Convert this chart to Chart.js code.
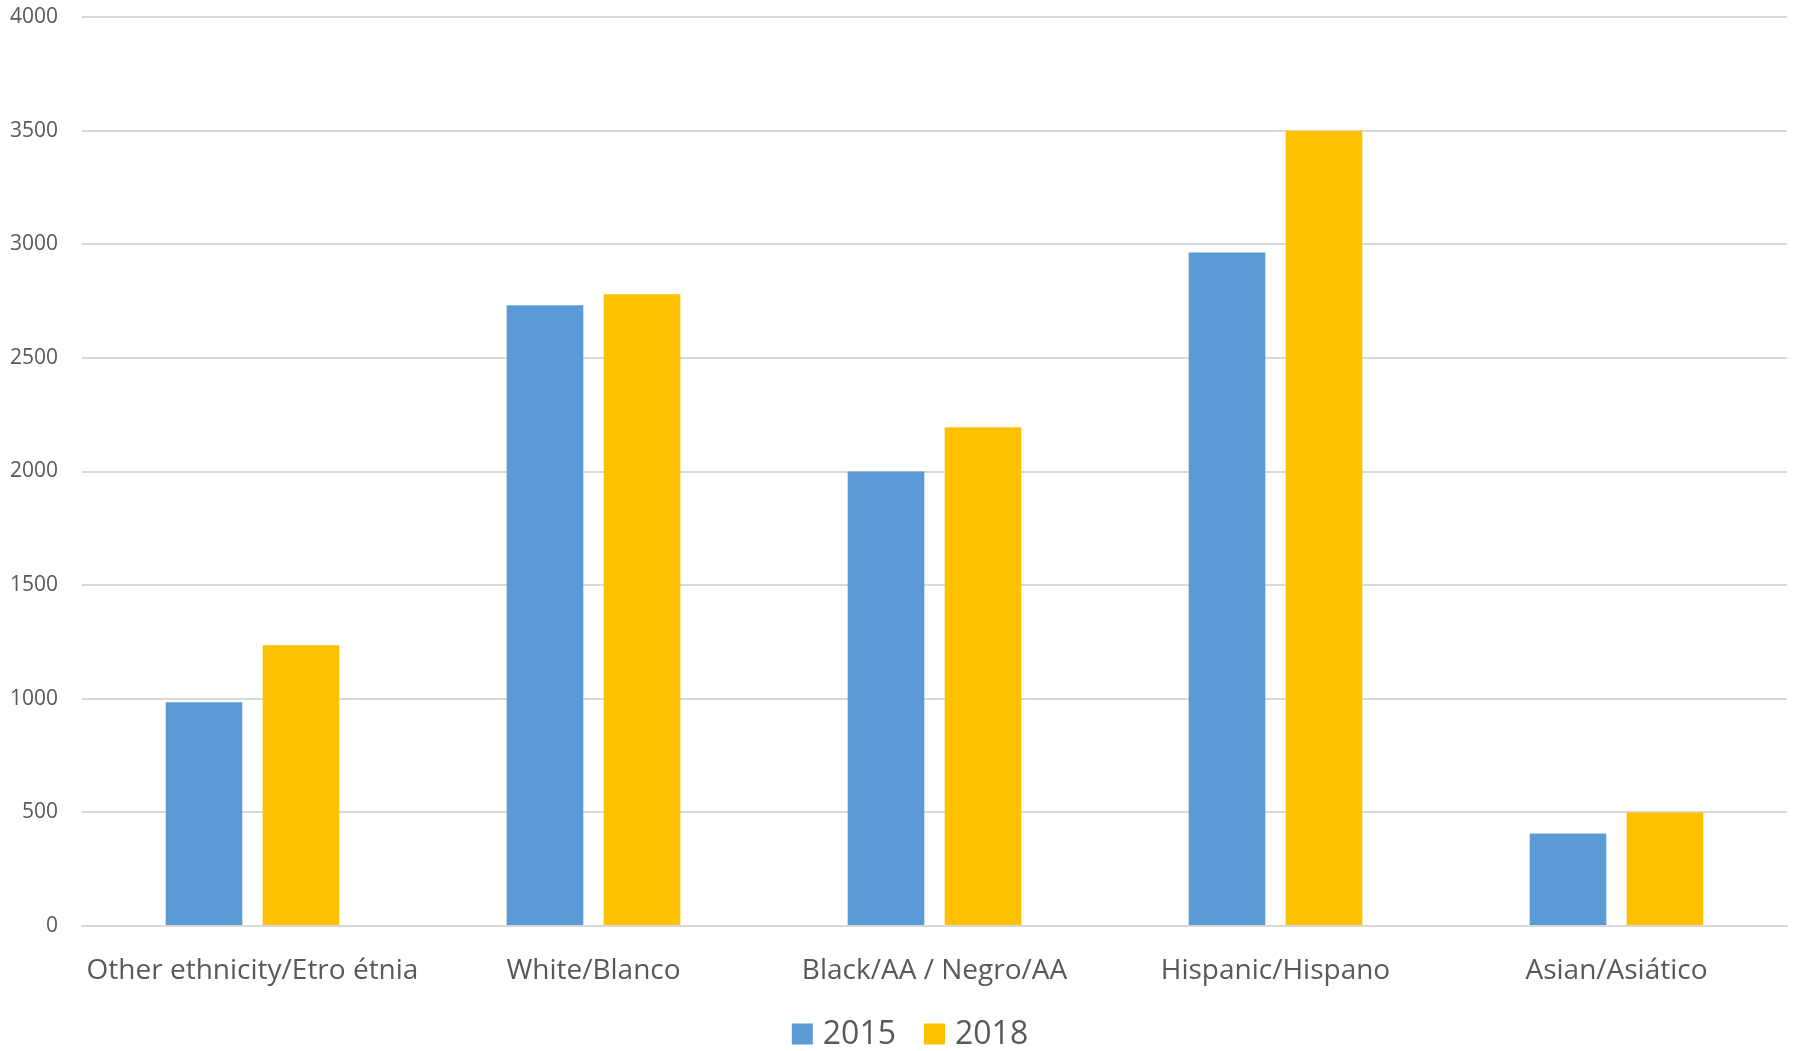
<!DOCTYPE html>
<html>
<head>
<meta charset="utf-8">
<script src="https://cdn.jsdelivr.net/npm/chart.js@4"></script>
<style>
  html, body { margin: 0; padding: 0; background: #ffffff; }
  #wrap { width: 1796px; height: 1051px; }
</style>
</head>
<body>
<div id="wrap"><canvas id="c" width="1796" height="1051"></canvas></div>
<script>
// Categories and yearly counts per group
const categories = ['Other ethnicity/Etro étnia', 'White/Blanco', 'Black/AA / Negro/AA', 'Hispanic/Hispano', 'Asian/Asiático'];
const values2015 = [985, 2732, 2000, 2964, 407];
const values2018 = [1235, 2780, 2195, 3500, 500];
const seriesLabels = ['2015', '2018'];
const seriesColors = ['#5B9BD5', '#FFC000'];

const FONT = "'Open Sans', 'Noto Sans', sans-serif";
const TEXT = '#595959';
const GRID = '#d9d9d9';

// Legend drawn under the axis: square swatch, then the series name
const bottomLegend = {
  id: 'bottomLegend',
  afterDraw(chart) {
    const ctx = chart.ctx;
    const size = 32, box = 21, gapText = 10, gapItem = 28;
    ctx.save();
    ctx.font = size + 'px ' + FONT;
    ctx.textBaseline = 'middle';
    const items = chart.data.datasets.map(ds => ({
      label: ds.label, color: ds.backgroundColor, w: ctx.measureText(ds.label).width
    }));
    const total = items.reduce((s, it) => s + box + gapText + it.w, 0) + gapItem * (items.length - 1);
    const cy = 1034;
    let x = chart.width / 2 + 12 - total / 2;
    items.forEach(it => {
      ctx.fillStyle = it.color;
      ctx.fillRect(x, cy - box / 2, box, box);
      x += box + gapText;
      ctx.fillStyle = TEXT;
      ctx.fillText(it.label, x, cy + 1);
      x += it.w + gapItem;
    });
    ctx.restore();
  }
};

new Chart(document.getElementById('c'), {
  type: 'bar',
  data: {
    labels: categories,
    datasets: [
      { label: seriesLabels[0], data: values2015, backgroundColor: seriesColors[0], borderWidth: 0 },
      { label: seriesLabels[1], data: values2018, backgroundColor: seriesColors[1], borderWidth: 0 }
    ]
  },
  plugins: [bottomLegend],
  options: {
    responsive: false,
    animation: false,
    devicePixelRatio: 1,
    layout: { padding: { top: 0, right: 9, left: 0, bottom: 60 } },
    datasets: { bar: { categoryPercentage: 0.569, barPercentage: 0.79 } },
    plugins: {
      tooltip: { enabled: false },
      legend: { display: false }
    },
    scales: {
      x: {
        afterFit(axis) { axis.height = 65; },
        grid: { display: false, drawTicks: false },
        border: { display: true, color: GRID, width: 2 },
        ticks: { color: TEXT, font: { family: FONT, size: 28 }, padding: 28, maxRotation: 0, autoSkip: false }
      },
      y: {
        min: 0,
        max: 4000,
        afterFit(axis) { axis.width = 82; axis.paddingTop = 17; },
        grid: { color: GRID, lineWidth: 2, drawTicks: false },
        border: { display: false },
        ticks: {
          stepSize: 500,
          color: TEXT,
          font: { family: FONT, size: 21 },
          padding: 24,
          callback: v => String(v)
        }
      }
    }
  }
});
</script>
</body>
</html>
